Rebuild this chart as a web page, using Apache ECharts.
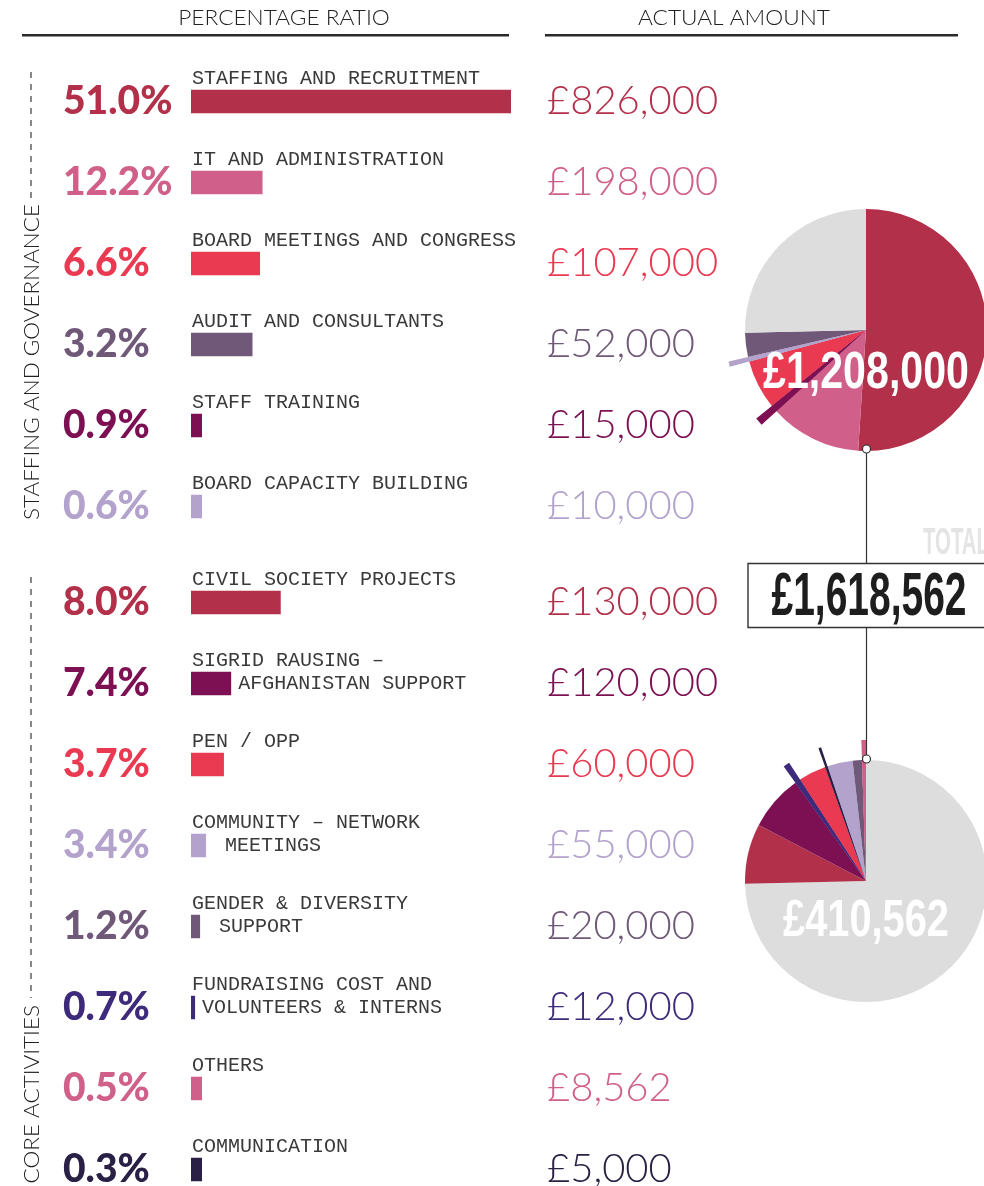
<!DOCTYPE html>
<html>
<head>
<meta charset="utf-8">
<script src="https://cdn.jsdelivr.net/npm/echarts@6/dist/echarts.min.js"></script>
<style>
html,body{margin:0;padding:0;background:#fff}
#chart{width:984px;height:1186px}
</style>
</head>
<body>
<div id="chart"></div>
<script>
// staffing and governance
var staffNames = ['STAFFING AND RECRUITMENT', 'IT AND ADMINISTRATION', 'BOARD MEETINGS AND CONGRESS',
    'AUDIT AND CONSULTANTS', 'STAFF TRAINING', 'BOARD CAPACITY BUILDING']
var staffLine2 = ['', '', '', '', '', '']
var staffPct = [51.0, 12.2, 6.6, 3.2, 0.9, 0.6]
var staffAmount = [826000, 198000, 107000, 52000, 15000, 10000]
// bar lengths as drawn in the source (in % units, not to scale with the ratios)
var staffBar = [51.0, 11.4, 11.0, 9.8, 1.75, 1.75]
var staffColor = ['#b2304a', '#d0608a', '#ea3a52', '#705878', '#7c1052', '#b2a2cc']

// core activities
var coreNames = ['CIVIL SOCIETY PROJECTS', 'SIGRID RAUSING –', 'PEN / OPP', 'COMMUNITY – NETWORK',
    'GENDER & DIVERSITY', 'FUNDRAISING COST AND', 'OTHERS', 'COMMUNICATION']
var coreLine2 = ['', 'AFGHANISTAN SUPPORT', '', ' MEETINGS', ' SUPPORT', 'VOLUNTEERS & INTERNS', '', '']
var corePct = [8.0, 7.4, 3.7, 3.4, 1.2, 0.7, 0.5, 0.3]
var coreAmount = [130000, 120000, 60000, 55000, 20000, 12000, 8562, 5000]
var coreBar = [14.3, 6.4, 5.25, 2.4, 1.45, 0.65, 1.75, 1.75]
var coreColor = ['#b2304a', '#7c1052', '#ea3a52', '#b2a2cc', '#705878', '#3e2a7a', '#d0608a', '#2a2045']

var GREY = '#dddddd'
var staffTotal = 1208000
var coreTotal = 410562
var grandTotal = 1618562

// pie slice order going clockwise from 12 o'clock (index into the arrays above)
var topPieOrder = [0, 1, 4, 2, 5, 3]
var topPieExploded = [4, 5]
var bottomPieOrder = [0, 1, 5, 2, 7, 3, 4, 6]
var bottomPieExploded = [5, 7, 6]

function money(v) {
    return '£' + v.toLocaleString('en-GB')
}

// squeeze a bold font into the condensed look of the original
var measureCtx = document.createElement('canvas').getContext('2d')
function fit(text, font, width) {
    measureCtx.font = font
    return width / measureCtx.measureText(text).width
}

var chart = echarts.init(document.getElementById('chart'))

function pctAxis(grid, pct, colors) {
    return {
        type: 'category', gridIndex: grid, inverse: true,
        data: pct.map(function (p, i) { return i }),
        axisLine: {show: false}, axisTick: {show: false}, splitLine: {show: false},
        axisLabel: {
            margin: 128, align: 'left',
            fontFamily: 'Lato', fontWeight: 900, fontSize: 39,
            padding: [0, 0, 2, 0],
            formatter: function (v, i) { return pct[i].toFixed(1) + '%' },
            color: function (v, i) { return colors[i] }
        }
    }
}
function amountAxis(grid, amount, colors) {
    return {
        type: 'category', gridIndex: grid, inverse: true, position: 'right',
        data: amount.map(function (p, i) { return i }),
        axisLine: {show: false}, axisTick: {show: false}, splitLine: {show: false},
        axisLabel: {
            margin: 36, align: 'left',
            fontFamily: 'Lato', fontWeight: 300, fontSize: 40,
            padding: [0, 0, 7, 0],
            formatter: function (v, i) { return money(amount[i]) },
            color: function (v, i) { return colors[i] }
        }
    }
}
var monoText = {fontFamily: '"Liberation Mono", monospace', fontSize: 20, color: '#3a3a3a'}

function barSeries(idx, bars, names, line2, colors) {
    return [{
        type: 'bar', xAxisIndex: idx, yAxisIndex: idx * 2,
        barWidth: 23.5, barGap: '-100%',
        data: bars.map(function (v, i) { return {value: v, itemStyle: {color: colors[i]}} }),
        label: Object.assign({
            show: true, position: [1, -11], align: 'left', verticalAlign: 'middle',
            formatter: function (p) { return names[p.dataIndex] }
        }, monoText)
    }, {
        type: 'bar', xAxisIndex: idx, yAxisIndex: idx * 2,
        barWidth: 23.5, barGap: '-100%',
        itemStyle: {color: 'rgba(0,0,0,0)'},
        data: bars,
        label: Object.assign({
            show: true, position: 'right', distance: 7,
            formatter: function (p) { return line2[p.dataIndex] }
        }, monoText)
    }]
}

function pieData(order, exploded, amount, colors, totalOther, otherFirst, onlyExploded) {
    var d = order.map(function (i) {
        var show = !onlyExploded || exploded.indexOf(i) >= 0
        return {value: amount[i], itemStyle: {color: show ? colors[i] : 'rgba(0,0,0,0)'}}
    })
    var rest = {value: totalOther, itemStyle: {color: onlyExploded ? 'rgba(0,0,0,0)' : GREY}}
    if (otherFirst) d.unshift(rest); else d.push(rest)
    return d
}
function pie(center, r, data) {
    return {
        type: 'pie', center: center, radius: [0, r], startAngle: 90, clockwise: true,
        silent: true, label: {show: false}, labelLine: {show: false},
        itemStyle: {borderWidth: 0}, emphasis: {disabled: true},
        data: data
    }
}

var headFont = {fontFamily: 'Lato', fontWeight: 300, fontSize: 21, fill: '#222'}
var bigFamily = '"Liberation Sans Narrow", "Liberation Sans", sans-serif'
function bigText(x, y, text, size, width, color, align, z) {
    return {
        type: 'text', z: z, x: x, y: y,
        scaleX: fit(text, 'bold ' + size + 'px ' + bigFamily, width),
        style: {text: text, align: align, verticalAlign: 'middle', fontFamily: bigFamily,
            fontWeight: 'bold', fontSize: size, fill: color}
    }
}

var option = {
    animation: false,
    backgroundColor: '#fff',
    grid: [
        {left: 191, top: 61, width: 320, height: 486, outerBoundsMode: 'none'},
        {left: 191, top: 562, width: 320, height: 648, outerBoundsMode: 'none'}
    ],
    xAxis: [
        {type: 'value', gridIndex: 0, min: 0, max: 51, show: false},
        {type: 'value', gridIndex: 1, min: 0, max: 51, show: false}
    ],
    yAxis: [
        pctAxis(0, staffPct, staffColor), amountAxis(0, staffAmount, staffColor),
        pctAxis(1, corePct, coreColor), amountAxis(1, coreAmount, coreColor)
    ],
    series: [].concat(
        barSeries(0, staffBar, staffNames, staffLine2, staffColor),
        barSeries(1, coreBar, coreNames, coreLine2, coreColor),
        [
            pie([866, 330], 121, pieData(topPieOrder, topPieExploded, staffAmount, staffColor, coreTotal, false, false)),
            pie([866, 330], 141, pieData(topPieOrder, topPieExploded, staffAmount, staffColor, coreTotal, false, true)),
            pie([866, 881], 121, pieData(bottomPieOrder, bottomPieExploded, coreAmount, coreColor, staffTotal, true, false)),
            pie([866, 881], 141, pieData(bottomPieOrder, bottomPieExploded, coreAmount, coreColor, staffTotal, true, true))
        ]
    ),
    graphic: [
        // headers
        {type: 'text', x: 284, y: 18, scaleX: 1.08, style: Object.assign({text: 'PERCENTAGE RATIO', align: 'center', verticalAlign: 'middle'}, headFont)},
        {type: 'text', x: 734, y: 18, scaleX: 1.08, style: Object.assign({text: 'ACTUAL AMOUNT', align: 'center', verticalAlign: 'middle'}, headFont)},
        {type: 'rect', shape: {x: 22, y: 34, width: 487, height: 2.6}, style: {fill: '#2a2a2a'}},
        {type: 'rect', shape: {x: 545, y: 34, width: 413, height: 2.6}, style: {fill: '#2a2a2a'}},
        // section markers
        {type: 'line', shape: {x1: 31, y1: 72, x2: 31, y2: 200}, style: {stroke: '#555', lineWidth: 1.4, lineDash: [6, 6]}},
        {type: 'text', x: 32, y: 362, rotation: Math.PI / 2, scaleX: 1.07,
            style: Object.assign({text: 'STAFFING AND GOVERNANCE', align: 'center', verticalAlign: 'middle'}, headFont)},
        {type: 'line', shape: {x1: 31, y1: 577, x2: 31, y2: 998}, style: {stroke: '#555', lineWidth: 1.4, lineDash: [6, 6]}},
        {type: 'text', x: 32, y: 1005, rotation: Math.PI / 2, scaleX: 1.07,
            style: Object.assign({text: 'CORE ACTIVITIES', align: 'right', verticalAlign: 'middle'}, headFont)},
        // connector and total
        {type: 'line', z: 10, shape: {x1: 866.5, y1: 453, x2: 866.5, y2: 755}, style: {stroke: '#333', lineWidth: 1.2}},
        {type: 'circle', z: 11, shape: {cx: 866.5, cy: 449, r: 4}, style: {fill: '#fff', stroke: '#333', lineWidth: 1.2}},
        {type: 'circle', z: 11, shape: {cx: 866.5, cy: 759, r: 4}, style: {fill: '#fff', stroke: '#333', lineWidth: 1.2}},
        bigText(923, 544, 'TOTAL', 37, 66, '#e4e4e4', 'left', 11),
        {type: 'rect', z: 12, shape: {x: 748, y: 563.5, width: 260, height: 64}, style: {fill: '#fff', stroke: '#333', lineWidth: 1.4}},
        bigText(869, 598, money(grandTotal), 62, 195, '#1e1e1e', 'center', 13),
        // pie totals
        bigText(866, 374, money(staffTotal), 51, 206, '#fff', 'center', 13),
        bigText(866, 922, money(coreTotal), 51, 166, '#fff', 'center', 13)
    ]
}
chart.setOption(option)
</script>
</body>
</html>
